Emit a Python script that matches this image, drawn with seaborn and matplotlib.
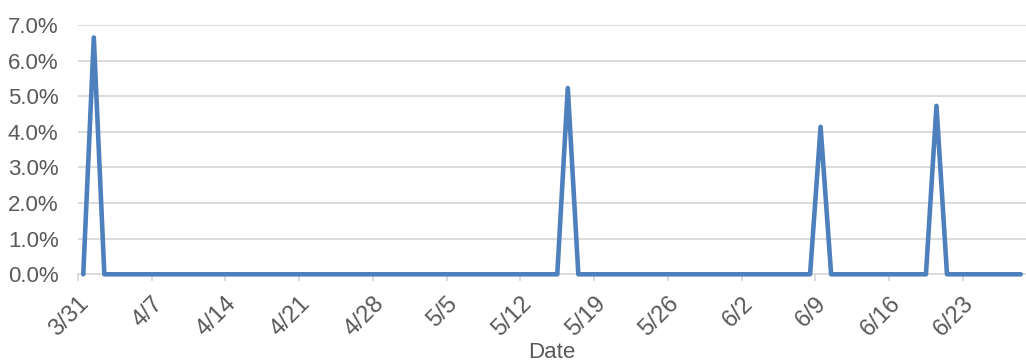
import matplotlib
matplotlib.use("Agg")
import matplotlib.pyplot as plt
from matplotlib.ticker import PercentFormatter
import seaborn as sns
import pandas as pd

# ---- data ----
start_date = "2020-03-31"
values = [
    0.0, 6.65, 0.0, 0.0, 0.0, 0.0, 0.0, 0.0, 0.0, 0.0,   # 3/31 - 4/9
    0.0, 0.0, 0.0, 0.0, 0.0, 0.0, 0.0, 0.0, 0.0, 0.0,    # 4/10 - 4/19
    0.0, 0.0, 0.0, 0.0, 0.0, 0.0, 0.0, 0.0, 0.0, 0.0,    # 4/20 - 4/29
    0.0, 0.0, 0.0, 0.0, 0.0, 0.0, 0.0, 0.0, 0.0, 0.0,    # 4/30 - 5/9
    0.0, 0.0, 0.0, 0.0, 0.0, 0.0, 5.23, 0.0, 0.0, 0.0,   # 5/10 - 5/19
    0.0, 0.0, 0.0, 0.0, 0.0, 0.0, 0.0, 0.0, 0.0, 0.0,    # 5/20 - 5/29
    0.0, 0.0, 0.0, 0.0, 0.0, 0.0, 0.0, 0.0, 0.0, 0.0,    # 5/30 - 6/8
    4.14, 0.0, 0.0, 0.0, 0.0, 0.0, 0.0, 0.0, 0.0, 0.0,   # 6/9 - 6/18
    0.0, 4.73, 0.0, 0.0, 0.0, 0.0, 0.0, 0.0, 0.0, 0.0,   # 6/19 - 6/28
]
tick_labels = ["3/31", "4/7", "4/14", "4/21", "4/28", "5/5", "5/12",
               "5/19", "5/26", "6/2", "6/9", "6/16", "6/23"]
x_label = "Date"

dates = pd.date_range(start_date, periods=len(values), freq="D")
df = pd.DataFrame({"Date": dates + pd.Timedelta(hours=12), "Value": values})

sns.set_theme(style="white")
plt.rcParams["font.family"] = ["Liberation Sans", "DejaVu Sans"]

fig = plt.figure(figsize=(10.26, 3.62), dpi=100)
ax = fig.add_axes([78 / 1026, 1 - 274.3 / 362, 1 - 78 / 1026, (274.3 - 25) / 362])

sns.lineplot(data=df, x="Date", y="Value", ax=ax, color="#4E80BD",
             linewidth=3.3, solid_joinstyle="round", solid_capstyle="round",
             clip_on=False, zorder=5)

ax.set_ylim(0, 7)
ax.set_yticks([0, 1, 2, 3, 4, 5, 6, 7])
ax.yaxis.set_major_formatter(PercentFormatter(decimals=1))
ax.grid(axis="y", color="#D9D9D9", linewidth=1.3)
ax.set_axisbelow(True)

tick_pos = pd.date_range(start_date, periods=len(tick_labels), freq="7D")
ax.set_xticks(tick_pos)
ax.set_xticklabels(tick_labels, rotation=45, ha="right", rotation_mode="anchor")
ax.set_xlim(dates[0], dates[-1] + pd.Timedelta(days=1))

for s in ["top", "right", "left"]:
    ax.spines[s].set_visible(False)
ax.spines["bottom"].set_color("#D9D9D9")
ax.spines["bottom"].set_linewidth(1.3)

ax.tick_params(axis="x", which="major", bottom=True, length=5, width=1.3,
               color="#D9D9D9", labelsize=17, labelcolor="#595959", pad=8)
ax.tick_params(axis="y", left=False, labelsize=16, labelcolor="#595959", pad=8)

ax.set_xlabel(x_label, fontsize=16, color="#595959", labelpad=1)
ax.set_ylabel("")

fig.savefig("out.png", dpi=100)
